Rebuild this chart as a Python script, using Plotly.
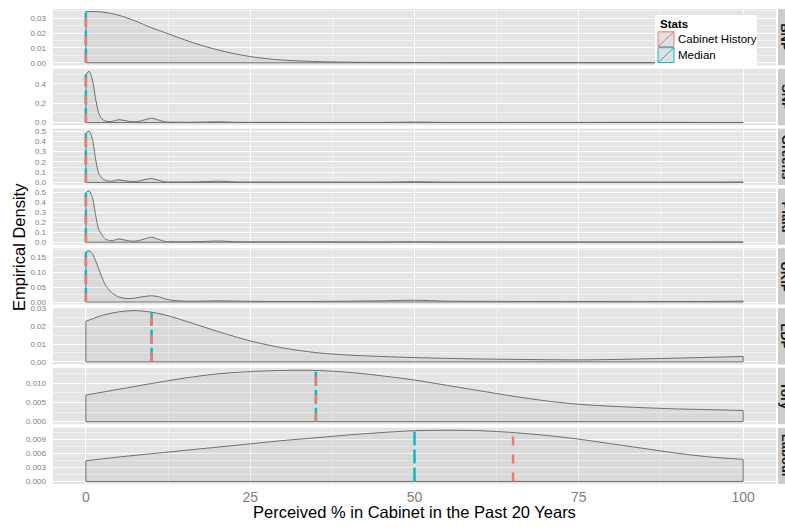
import numpy as np
import plotly.graph_objects as go
from plotly.subplots import make_subplots

# ---------------- data ----------------
panels = ["BNP", "SNP", "Greens", "Plaid", "UKIP", "LDP", "Tory", "Labour"]

bnp_x = [0, 2.5, 5, 7.5, 10, 12.5, 15, 17.5, 20, 22.5, 25, 27.5, 30, 35, 40, 50, 60, 70, 80, 90, 100]
bnp_y = [0.0345, 0.0342, 0.0320, 0.0282, 0.0236, 0.0196, 0.0155, 0.0118, 0.0088, 0.0062, 0.0042,
         0.0028, 0.0018, 0.0008, 0.0004, 0.0002, 0.0001, 0.0001, 0.0001, 0.0001, 0.0001]

spike_x = [0, 0.5, 1, 1.5, 2, 2.5, 3, 4, 5, 6, 7, 8, 9, 10, 11, 12, 14, 17, 20, 23, 27, 35, 45,
           50, 55, 65, 75, 85, 95, 100]
snp_y = [0.50, 0.53, 0.44, 0.24, 0.09, 0.035, 0.015, 0.012, 0.03, 0.02, 0.008, 0.012, 0.03, 0.045,
         0.028, 0.008, 0.004, 0.004, 0.008, 0.003, 0.003, 0.002, 0.002, 0.005, 0.002, 0.002, 0.002,
         0.003, 0.002, 0.002]
greens_y = [0.48, 0.50, 0.42, 0.22, 0.08, 0.04, 0.018, 0.012, 0.025, 0.015, 0.008, 0.012, 0.028,
            0.038, 0.022, 0.006, 0.004, 0.005, 0.012, 0.004, 0.003, 0.003, 0.002, 0.006, 0.002,
            0.002, 0.002, 0.002, 0.002, 0.004]
plaid_y = [0.50, 0.517, 0.45, 0.27, 0.12, 0.07, 0.03, 0.015, 0.033, 0.02, 0.01, 0.015, 0.035, 0.05,
           0.03, 0.008, 0.004, 0.005, 0.012, 0.004, 0.003, 0.003, 0.002, 0.004, 0.002, 0.002, 0.002,
           0.002, 0.002, 0.003]

ukip_x = [0, 0.5, 1, 1.5, 2, 2.5, 3, 4, 5, 6, 7, 8, 9, 10, 11, 12, 13, 15, 18, 20, 23, 27, 35, 45,
          50, 55, 65, 75, 85, 95, 100]
ukip_y = [0.168, 0.172, 0.162, 0.138, 0.108, 0.080, 0.056, 0.030, 0.017, 0.012, 0.012, 0.015, 0.019,
          0.021, 0.018, 0.011, 0.006, 0.003, 0.003, 0.004, 0.003, 0.002, 0.002, 0.004, 0.006, 0.003,
          0.002, 0.002, 0.002, 0.002, 0.003]

ldp_x = [0, 2.5, 5, 7.5, 10, 12.5, 15, 17.5, 20, 25, 30, 35, 40, 50, 60, 70, 75, 80, 90, 100]
ldp_y = [0.0229, 0.0262, 0.0282, 0.0289, 0.0280, 0.0260, 0.0232, 0.0202, 0.0172, 0.0118, 0.0078,
         0.0052, 0.0038, 0.0024, 0.0016, 0.0012, 0.0011, 0.0013, 0.0021, 0.0030]

wide_x = [0, 5, 10, 15, 20, 25, 30, 35, 40, 45, 50, 55, 60, 65, 70, 75, 80, 85, 90, 95, 100]
tory_y = [0.0069, 0.0084, 0.0099, 0.0113, 0.0124, 0.0130, 0.0133, 0.0133, 0.0128, 0.0119, 0.0108,
          0.0094, 0.0080, 0.0066, 0.0054, 0.0045, 0.0040, 0.0036, 0.0033, 0.0031, 0.0029]
labour_y = [0.0044, 0.0052, 0.0059, 0.0066, 0.0073, 0.0080, 0.0087, 0.0093, 0.0099, 0.0104, 0.0108,
            0.0109, 0.0108, 0.0104, 0.0098, 0.0090, 0.0080, 0.0070, 0.0060, 0.0052, 0.0047]

cabinet_history = [0, 0, 0, 0, 0, 10, 35, 65]
median_pos = [0, 0, 0, 0, 0, 10, 35, 50]

y_tick_step = [0.01, 0.2, 0.1, 0.1, 0.05, 0.01, 0.005, 0.003]
y_tick_format = [".2f", ".1f", ".1f", ".1f", ".2f", ".2f", ".3f", ".3f"]
x_ticks = [0, 25, 50, 75, 100]

curves = [(bnp_x, bnp_y), (spike_x, snp_y), (spike_x, greens_y), (spike_x, plaid_y),
          (ukip_x, ukip_y), (ldp_x, ldp_y), (wide_x, tory_y), (wide_x, labour_y)]

# ---------------- style ----------------
RED = "#F8766D"
CYAN = "#00BFC4"
CURVE = "#6e6e6e"
PANEL_BG = "#e5e5e5"
MINOR = "#f2f2f2"
TICK_COL = "#808080"
FONT = "Liberation Sans"

W, H = 785, 529
ML, MR, MT, MB = 53, 9, 5, 45
PW = W - ML - MR
PH = H - MT - MB

def px_x(p):
    return (p - ML) / PW

def px_y(p):
    return (H - MB - p) / PH

fig = make_subplots(rows=8, cols=1, shared_xaxes=True, vertical_spacing=3.5 / PH)

for i, name in enumerate(panels):
    r = i + 1
    xs, ys = curves[i]
    fig.add_trace(go.Scatter(x=xs, y=ys, mode="lines",
                             line=dict(color=CURVE, width=1, shape="spline", smoothing=0.8),
                             fill="tozeroy", fillcolor="rgba(120,120,120,0.10)",
                             showlegend=False, hoverinfo="skip"), row=r, col=1)
    fig.add_trace(go.Scatter(x=[xs[0], xs[0], xs[-1], xs[-1]], y=[ys[0], 0, 0, ys[-1]],
                             mode="lines", line=dict(color=CURVE, width=1),
                             showlegend=False, hoverinfo="skip"), row=r, col=1)
    hm = float(np.interp(median_pos[i], xs, ys))
    hc = float(np.interp(cabinet_history[i], xs, ys))
    fig.add_trace(go.Scatter(x=[median_pos[i], median_pos[i]], y=[0, hm], mode="lines",
                             line=dict(color=CYAN, width=2.5, dash="14px,4px"),
                             showlegend=False, hoverinfo="skip"), row=r, col=1)
    fig.add_trace(go.Scatter(x=[cabinet_history[i], cabinet_history[i]], y=[0, hc], mode="lines",
                             line=dict(color=RED, width=2.5, dash="9px,9px"),
                             showlegend=False, hoverinfo="skip"), row=r, col=1)
    m = max(ys)
    step = y_tick_step[i]
    fig.update_yaxes(range=[-0.05 * m, 1.05 * m], tick0=0, dtick=step, tickformat=y_tick_format[i],
                     showgrid=True, gridcolor="white", gridwidth=1, zeroline=False,
                     minor=dict(tick0=0, dtick=step / 2, showgrid=True, gridcolor=MINOR, gridwidth=0.6),
                     ticks="", ticklabelstandoff=6,
                     tickfont=dict(family=FONT, size=8, color=TICK_COL), row=r, col=1)
    # facet strip
    fig.add_shape(type="rect", xref="paper", yref=f"y{r if r > 1 else ''} domain",
                  x0=px_x(778), x1=px_x(805), y0=0, y1=1, fillcolor="#cccccc", line=dict(width=0),
                  layer="below")
    fig.add_annotation(xref="paper", yref=f"y{r if r > 1 else ''} domain", x=px_x(786), y=0.5,
                       text=f"<b>{name}</b>", textangle=90, showarrow=False, xanchor="center",
                       yanchor="middle", font=dict(family=FONT, size=13, color="#1a1a1a"))

fig.update_xaxes(range=[-5, 105], tickmode="array", tickvals=x_ticks,
                 showgrid=True, gridcolor="white", gridwidth=1, zeroline=False,
                 minor=dict(tick0=0, dtick=12.5, showgrid=True, gridcolor=MINOR, gridwidth=0.6),
                 ticks="", ticklabelstandoff=3,
                 tickfont=dict(family=FONT, size=14, color=TICK_COL))

# axis titles
fig.add_annotation(xref="paper", yref="paper", x=0.5, y=px_y(512), text="Perceived % in Cabinet in the Past 20 Years",
                   showarrow=False, xanchor="center", yanchor="middle",
                   font=dict(family=FONT, size=16.5, color="black"))
fig.add_annotation(xref="paper", yref="paper", x=px_x(19), y=px_y(245), text="Empirical Density", textangle=-90,
                   showarrow=False, xanchor="center", yanchor="middle",
                   font=dict(family=FONT, size=16.5, color="black"))

# legend (drawn)
fig.add_shape(type="rect", xref="paper", yref="paper", x0=px_x(655), x1=px_x(757), y0=px_y(63), y1=px_y(11),
              fillcolor="white", line=dict(width=0), layer="above")
fig.add_annotation(xref="paper", yref="paper", x=px_x(658), y=px_y(20), text="<b>Stats</b>",
                   showarrow=False, xanchor="left", yanchor="middle",
                   font=dict(family=FONT, size=11.5, color="black"))
for k, (lab, col, yt, yb) in enumerate([("Cabinet History", RED, 28, 43), ("Median", CYAN, 44, 59)]):
    fig.add_shape(type="rect", xref="paper", yref="paper", x0=px_x(658), x1=px_x(674),
                  y0=px_y(yb), y1=px_y(yt), fillcolor="#e0e0e0", line=dict(color=col, width=1), layer="above")
    fig.add_shape(type="line", xref="paper", yref="paper", x0=px_x(658), x1=px_x(674),
                  y0=px_y(yb), y1=px_y(yt), line=dict(color=col, width=1), layer="above")
    fig.add_annotation(xref="paper", yref="paper", x=px_x(676), y=px_y((yt + yb) / 2), text=lab,
                       showarrow=False, xanchor="left", yanchor="middle",
                       font=dict(family=FONT, size=11.5, color="black"))

fig.update_layout(width=W, height=H, margin=dict(l=ML, r=MR, t=MT, b=MB),
                  plot_bgcolor=PANEL_BG, paper_bgcolor="white", showlegend=False,
                  font=dict(family=FONT))

fig.write_html("out.html")
